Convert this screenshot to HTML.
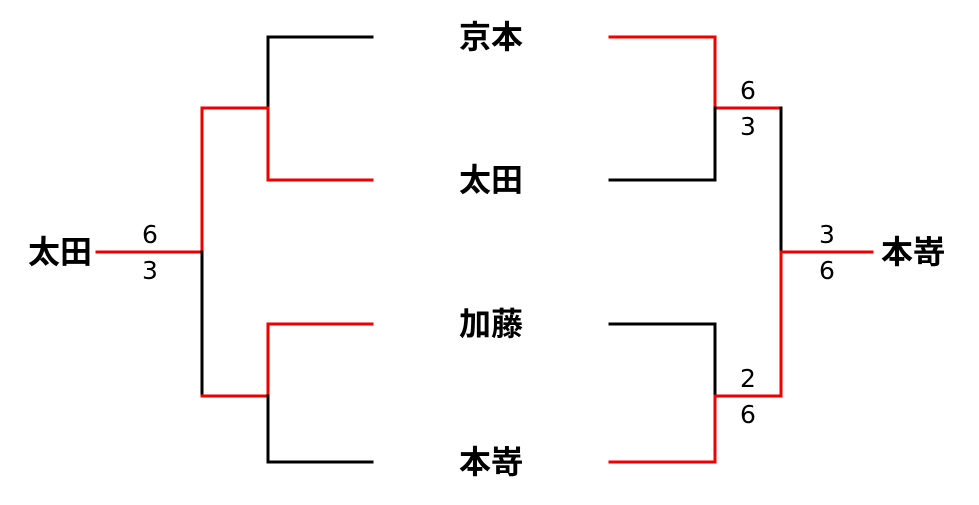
<!DOCTYPE html>
<html><head><meta charset="utf-8"><style>
body{margin:0;background:#fff;width:979px;height:500px;overflow:hidden}
svg text{font-family:"Liberation Sans","Noto Sans CJK JP",sans-serif;fill:#000}
.n{font-size:32px;font-weight:bold}
.d{font-size:25px;font-family:"DejaVu Sans",sans-serif}
</style></head><body>
<svg width="979" height="500" viewBox="0 0 979 500" xmlns="http://www.w3.org/2000/svg">
<g stroke-width="3" fill="none" stroke-linecap="square">
<path d="M372 37H268V108" stroke="#000"/>
<path d="M268 108V180H372" stroke="#e00"/>
<path d="M202 108H268" stroke="#e00"/>
<path d="M202 108V252H97" stroke="#e00"/>
<path d="M202 252V396" stroke="#000"/>
<path d="M202 396H268V324H372" stroke="#e00"/>
<path d="M268 396V462H372" stroke="#000"/>
<path d="M610 37H715V108H781" stroke="#e00"/>
<path d="M715 108V180H610" stroke="#000"/>
<path d="M781 108V252" stroke="#000"/>
<path d="M781 252V396H715" stroke="#e00"/>
<path d="M781 252H872" stroke="#e00"/>
<path d="M610 324H715V396" stroke="#000"/>
<path d="M715 396V462H610" stroke="#e00"/>
</g>
<g text-anchor="middle">
<text class="n" x="491" y="48">京本</text>
<text class="n" x="491" y="191">太田</text>
<text class="n" x="491" y="335">加藤</text>
<text class="n" x="491" y="473">本嵜</text>
<text class="n" x="60" y="263">太田</text>
<text class="n" x="913" y="263">本嵜</text>
</g>
<g text-anchor="middle">
<text class="d" x="150" y="243">6</text>
<text class="d" x="150" y="279">3</text>
<text class="d" x="748" y="99">6</text>
<text class="d" x="748" y="135">3</text>
<text class="d" x="827" y="243">3</text>
<text class="d" x="827" y="279">6</text>
<text class="d" x="748" y="387">2</text>
<text class="d" x="748" y="423">6</text>
</g>
</svg>
</body></html>
